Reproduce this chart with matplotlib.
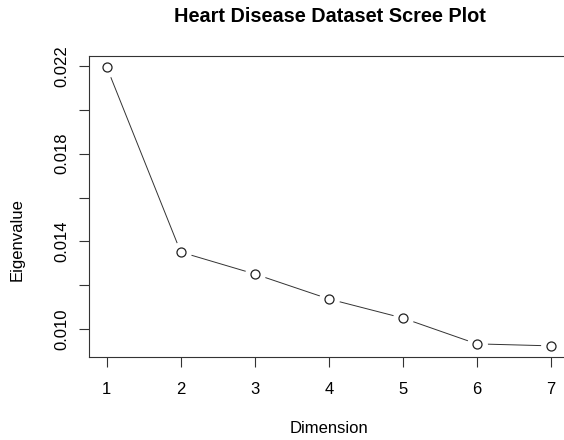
import matplotlib
matplotlib.use("Agg")
import matplotlib.pyplot as plt

plt.rcParams['font.family'] = ['Liberation Sans', 'DejaVu Sans']

dims = [1, 2, 3, 4, 5, 6, 7]
eigen = [0.02195, 0.01351, 0.01251, 0.01137, 0.01050, 0.00932, 0.00923]
yticks = [0.010, 0.012, 0.014, 0.016, 0.018, 0.020, 0.022]
ylabels = ["0.010", "", "0.014", "", "0.018", "", "0.022"]

fig = plt.figure(figsize=(5.64, 4.4), dpi=100)
# plot region runs past the right edge, like the reference
ax = fig.add_axes([89 / 564, 1 - 357 / 440, 479.5 / 564, 301 / 440])

ax.plot(dims, eigen, color='#333333', lw=0.7, zorder=1)
# white halo so the segments stop short of the circles (R type="b")
ax.plot(dims, eigen, ls='none', marker='o', ms=14, mfc='white', mec='white', zorder=2)
ax.plot(dims, eigen, ls='none', marker='o', ms=6.5, mfc='white', mec='#222222', mew=0.9, zorder=3)

rng = max(eigen) - min(eigen)
ax.set_xlim(1 - 0.24, 7 + 0.24)
ax.set_ylim(min(eigen) - 0.04 * rng, max(eigen) + 0.04 * rng)

ax.set_xticks(dims)
ax.set_xticklabels([str(d) for d in dims])
ax.set_yticks(yticks)
ax.set_yticklabels(ylabels, rotation=90, va='center')

ax.tick_params(axis='both', direction='out', length=7, width=0.8, color='#333333',
               labelsize=12)
ax.tick_params(axis='x', pad=11)
ax.tick_params(axis='y', pad=7)
for s in ax.spines.values():
    s.set_color('#333333')
    s.set_linewidth(0.8)

fig.text(329 / 564, 1 - 428 / 440, "Dimension", ha='center', va='center', fontsize=12)
fig.text(17 / 564, 1 - 240 / 440, "Eigenvalue", ha='center', va='center', rotation=90, fontsize=12)
fig.text(330 / 564, 1 - 17 / 440, "Heart Disease Dataset Scree Plot", ha='center', va='center',
         fontsize=14.3, fontweight='bold')

fig.savefig("out.png", dpi=100)
